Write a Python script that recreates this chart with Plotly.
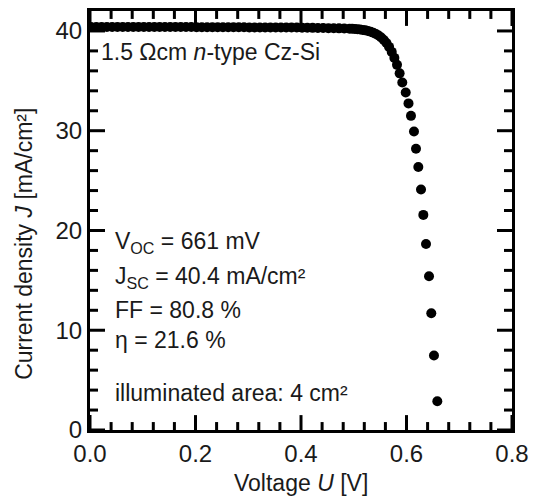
import plotly.graph_objects as go

# ---- data ----
voltage = [0.002, 0.012, 0.022, 0.032, 0.042, 0.052, 0.062, 0.072, 0.082, 0.092,
           0.102, 0.112, 0.122, 0.132, 0.142, 0.152, 0.162, 0.172, 0.182, 0.192,
           0.202, 0.212, 0.222, 0.232, 0.242, 0.252, 0.262, 0.272, 0.282, 0.292,
           0.302, 0.312, 0.322, 0.332, 0.342, 0.352, 0.362, 0.372, 0.382, 0.392,
           0.402, 0.412, 0.422, 0.432, 0.442, 0.452, 0.462, 0.472, 0.482, 0.492,
           0.497, 0.502, 0.507, 0.512, 0.517, 0.522, 0.527, 0.532, 0.537, 0.542,
           0.547, 0.552, 0.557, 0.562, 0.567, 0.572, 0.577, 0.582, 0.587, 0.592,
           0.5985, 0.6038, 0.6085, 0.6142, 0.6180, 0.6224, 0.6275, 0.6319, 0.6370,
           0.6427, 0.6470, 0.6521, 0.6584]
current_density = [40.40, 40.40, 40.40, 40.40, 40.40, 40.40, 40.40, 40.40, 40.40, 40.40,
                   40.39, 40.39, 40.39, 40.39, 40.39, 40.39, 40.39, 40.39, 40.39, 40.39,
                   40.37, 40.37, 40.37, 40.37, 40.37, 40.37, 40.37, 40.37, 40.37, 40.37,
                   40.35, 40.35, 40.35, 40.35, 40.35, 40.35, 40.35, 40.35, 40.35, 40.35,
                   40.33, 40.32, 40.31, 40.30, 40.29, 40.28, 40.27, 40.26, 40.25, 40.23,
                   40.22, 40.20, 40.17, 40.14, 40.10, 40.06, 40.00, 39.92, 39.82, 39.70,
                   39.55, 39.35, 39.10, 38.80, 38.40, 37.90, 37.30, 36.60, 35.75, 34.83,
                   33.83, 32.74, 31.49, 29.92, 28.19, 26.37, 24.11, 21.56, 18.64,
                   15.42, 11.71, 7.46, 2.89]

x_range = [0, 0.8]
y_range = [0, 42]
x_major_ticks = [0.0, 0.2, 0.4, 0.6, 0.8]
x_minor_ticks = [0.04, 0.08, 0.12, 0.16, 0.24, 0.28, 0.32, 0.36, 0.44, 0.48,
                 0.52, 0.56, 0.64, 0.68, 0.72, 0.76]
y_major_ticks = [0, 10, 20, 30, 40]
y_minor_ticks = [2, 4, 6, 8, 12, 14, 16, 18, 22, 24, 26, 28, 32, 34, 36, 38]

sample_label = "1.5 Ωcm <i>n</i>-type Cz-Si"
param_lines = ["V<sub>OC</sub> = 661 mV",
               "J<sub>SC</sub> = 40.4 mA/cm²",
               "FF = 80.8 %",
               "η = 21.6 %",
               "illuminated area: 4 cm²"]
param_y = [18.8, 15.3, 12.0, 9.0, 3.7]

FONT = "Arial, Liberation Sans, sans-serif"
FS = 23
TICK_FS = 24
TXT = "#1a1a1a"

PLOT_W = 538 - 90 - 26
PLOT_H = 497 - 8 - 67
MAJOR_LEN = 15
MINOR_LEN = 8

fig = go.Figure()
fig.add_trace(go.Scatter(
    x=voltage, y=current_density, mode="markers",
    marker=dict(color="black", size=10),
    showlegend=False,
))

fig.update_layout(
    xaxis=dict(range=x_range, tickvals=x_major_ticks, tickformat=".1f",
               ticks="", showline=True, linecolor="black", linewidth=3, mirror=True,
               showgrid=False, zeroline=False,
               tickfont=dict(family=FONT, size=TICK_FS, color=TXT)),
    yaxis=dict(range=y_range, tickvals=y_major_ticks,
               ticks="", showline=True, linecolor="black", linewidth=3, mirror=True,
               showgrid=False, zeroline=False,
               tickfont=dict(family=FONT, size=TICK_FS, color=TXT)),
)

# inside tick marks on all four sides, placed at the tick values
tick_line = dict(color="black", width=3)
for vals, length in ((x_major_ticks, MAJOR_LEN), (x_minor_ticks, MINOR_LEN)):
    frac = length / PLOT_H
    for v in vals:
        fig.add_shape(type="line", xref="x", yref="y domain", x0=v, x1=v,
                      y0=0, y1=frac, line=tick_line, layer="above")
        fig.add_shape(type="line", xref="x", yref="y domain", x0=v, x1=v,
                      y0=1 - frac, y1=1, line=tick_line, layer="above")
for vals, length in ((y_major_ticks, MAJOR_LEN), (y_minor_ticks, MINOR_LEN)):
    frac = length / PLOT_W
    for v in vals:
        fig.add_shape(type="line", xref="x domain", yref="y", y0=v, y1=v,
                      x0=0, x1=frac, line=tick_line, layer="above")
        fig.add_shape(type="line", xref="x domain", yref="y", y0=v, y1=v,
                      x0=1 - frac, x1=1, line=tick_line, layer="above")

fig.add_annotation(x=0.017, y=37.9, xref="x", yref="y", text=sample_label,
                   showarrow=False, xanchor="left", yanchor="middle",
                   font=dict(family=FONT, size=FS, color=TXT))

for txt, yy in zip(param_lines, param_y):
    fig.add_annotation(x=0.043, y=yy, xref="x", yref="y", text=txt,
                       showarrow=False, xanchor="left", yanchor="middle",
                       font=dict(family=FONT, size=FS, color=TXT))

fig.add_annotation(x=0.5, y=-0.127, xref="paper", yref="paper",
                   text="Voltage <i>U</i> [V]", showarrow=False,
                   xanchor="center", yanchor="middle",
                   font=dict(family=FONT, size=FS, color=TXT))
fig.add_annotation(x=-0.158, y=0.445, xref="paper", yref="paper",
                   text="Current density <i>J</i> [mA/cm²]", showarrow=False,
                   textangle=-90, xanchor="center", yanchor="middle",
                   font=dict(family=FONT, size=FS, color=TXT))

fig.update_layout(
    width=538, height=497,
    margin=dict(l=90, r=26, t=8, b=67),
    paper_bgcolor="white", plot_bgcolor="white",
)

fig.write_html("out.html")
